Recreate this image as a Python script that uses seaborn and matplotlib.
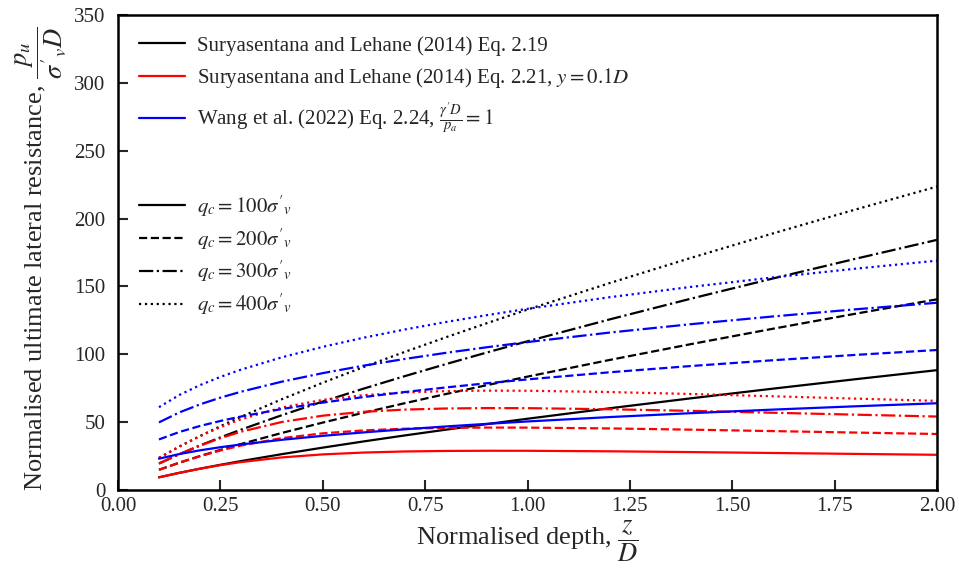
import numpy as np
import pandas as pd
import matplotlib
matplotlib.use("Agg")
import matplotlib.pyplot as plt
from matplotlib.lines import Line2D
import seaborn as sns

# Normalised depth z/D
z = [0.1, 0.15, 0.2, 0.25, 0.3, 0.4, 0.5, 0.6, 0.7, 0.8, 0.9, 1.0, 1.2, 1.4, 1.6, 1.8, 2.0]

# Suryasentana and Lehane (2014) Eq. 2.19
sl219_100 = [9.34, 12.66, 15.71, 18.57, 21.29, 26.41, 31.22, 35.80, 40.19, 44.42, 48.52, 52.51, 60.20, 67.59, 74.70, 81.60, 88.31]
sl219_200 = [14.86, 20.14, 24.99, 29.54, 33.87, 42.03, 49.68, 56.96, 63.94, 70.67, 77.20, 83.55, 95.79, 107.54, 118.86, 129.84, 140.51]
sl219_300 = [19.49, 26.41, 32.78, 38.75, 44.43, 55.12, 65.16, 74.72, 83.87, 92.70, 101.26, 109.59, 125.64, 141.05, 155.90, 170.30, 184.31]
sl219_400 = [23.64, 32.04, 39.76, 47.00, 53.89, 66.87, 79.05, 90.64, 101.74, 112.45, 122.84, 132.94, 152.42, 171.11, 189.12, 206.59, 223.58]

# Suryasentana and Lehane (2014) Eq. 2.21, y = 0.1D
sl221_100 = [9.34, 12.65, 15.65, 18.30, 20.57, 24.01, 26.24, 27.60, 28.39, 28.78, 28.92, 28.89, 28.51, 27.94, 27.27, 26.60, 25.94]
sl221_200 = [14.86, 20.13, 24.89, 29.10, 32.72, 38.21, 41.75, 43.92, 45.16, 45.79, 46.01, 45.96, 45.37, 44.46, 43.40, 42.33, 41.27]
sl221_300 = [19.49, 26.40, 32.65, 38.18, 42.93, 50.11, 54.76, 57.61, 59.24, 60.06, 60.35, 60.29, 59.50, 58.31, 56.92, 55.52, 54.13]
sl221_400 = [23.64, 32.03, 39.60, 46.30, 52.07, 60.79, 66.43, 69.88, 71.86, 72.86, 73.21, 73.13, 72.19, 70.74, 69.05, 67.35, 65.67]

# Wang et al. (2022) Eq. 2.24
w224_100 = [23.08, 26.50, 29.22, 31.52, 33.53, 36.98, 39.90, 42.45, 44.73, 46.81, 48.72, 50.50, 53.73, 56.62, 59.25, 61.67, 63.92]
w224_200 = [37.25, 42.76, 47.16, 50.87, 54.12, 59.68, 64.39, 68.51, 72.19, 75.54, 78.63, 81.50, 86.72, 91.38, 95.62, 99.53, 103.16]
w224_300 = [49.82, 57.19, 63.07, 68.04, 72.38, 79.82, 86.11, 91.63, 96.55, 101.03, 105.16, 109.00, 115.98, 122.21, 127.89, 133.11, 137.97]
w224_400 = [61.02, 70.05, 77.24, 83.33, 88.64, 97.76, 105.47, 112.22, 118.25, 123.74, 128.80, 133.50, 142.04, 149.68, 156.64, 163.03, 168.98]

method_labels = [
    "Suryasentana and Lehane (2014) Eq. 2.19",
    "Suryasentana and Lehane (2014) Eq. 2.21, $y=0.1D$",
    r"Wang et al. (2022) Eq. 2.24, $\frac{\gamma^{\prime}D}{p_a}=1$",
]
qc_labels = [
    r"$q_c=100\sigma^{\prime}{}_{v}$",
    r"$q_c=200\sigma^{\prime}{}_{v}$",
    r"$q_c=300\sigma^{\prime}{}_{v}$",
    r"$q_c=400\sigma^{\prime}{}_{v}$",
]
x_ticks = [0.00, 0.25, 0.50, 0.75, 1.00, 1.25, 1.50, 1.75, 2.00]
y_ticks = [0, 50, 100, 150, 200, 250, 300, 350]

series = {
    "black": [sl219_100, sl219_200, sl219_300, sl219_400],
    "red": [sl221_100, sl221_200, sl221_300, sl221_400],
    "blue": [w224_100, w224_200, w224_300, w224_400],
}
styles = ["-", "--", "-.", ":"]

sns.set_style("ticks")
plt.rcParams["font.family"] = ["Liberation Serif", "DejaVu Serif"]
plt.rcParams["mathtext.fontset"] = "stix"

fig = plt.figure(figsize=(9.59, 5.70), dpi=100)
ax = fig.add_axes([118 / 959, 1 - 490 / 570, (937 - 118) / 959, (490 - 15) / 570])

LW = 1.6
for color, group in series.items():
    for vals, ls in zip(group, styles):
        df = pd.DataFrame({"z": z, "p": vals})
        sns.lineplot(data=df, x="z", y="p", color=color, linestyle=ls, lw=LW, ax=ax, legend=False)

ax.set_xlim(0, 2)
ax.set_ylim(0, 350)
ax.set_xticks(x_ticks)
ax.set_xticklabels([f"{t:.2f}" for t in x_ticks])
ax.set_yticks(y_ticks)
ax.tick_params(direction="in", length=7, width=1.5, labelsize=15)
ax.tick_params(axis="y", pad=9)
ax.tick_params(axis="x", pad=5)
for s in ax.spines.values():
    s.set_linewidth(1.8)
    s.set_color("black")

ax.set_xlabel(r"Normalised depth, $\dfrac{z}{D}$", fontsize=19, labelpad=2)
ax.set_ylabel(r"Normalised ultimate lateral resistance, $\dfrac{p_u}{\sigma^{\prime}{}_{v}D}$", fontsize=19)
ax.yaxis.set_label_coords(-0.0595, 0.487)

h1 = [Line2D([0], [0], color=c, lw=LW) for c in ["black", "red", "blue"]]
leg1 = ax.legend(h1, method_labels, loc="upper left", frameon=False, fontsize=15,
                 handlelength=2.2, handletextpad=0.6, bbox_to_anchor=(0.0, 1.0),
                 borderaxespad=0.6, labelspacing=0.5)
ax.add_artist(leg1)
h2 = [Line2D([0], [0], color="black", lw=LW, linestyle=ls) for ls in styles]
ax.legend(h2, qc_labels, loc="upper left", frameon=False, fontsize=15,
          handlelength=2.2, handletextpad=0.6, bbox_to_anchor=(0.0, 0.668),
          borderaxespad=0.6, labelspacing=0.35)

fig.savefig("out.png", dpi=100)
